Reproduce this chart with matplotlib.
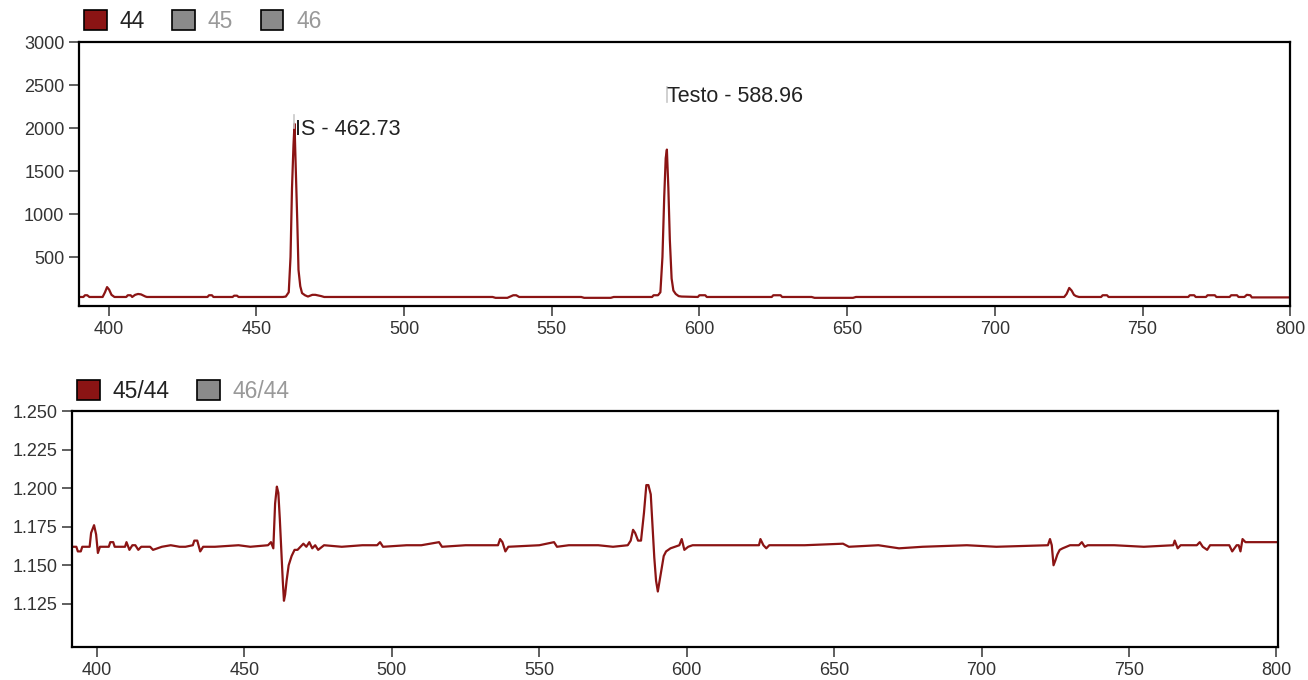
import matplotlib
matplotlib.use("Agg")
import matplotlib.pyplot as plt
from matplotlib.patches import Patch
import numpy as np

plt.rcParams['font.family'] = ['Liberation Sans', 'DejaVu Sans']

# signal trace for mass 44, (m/z, intensity)
trace44 = [(390, 35), (391.5, 35), (392, 55), (392.8, 55), (393.5, 35), (398, 35), (398.8, 90),
           (399.5, 150), (400.2, 120), (401, 60), (402, 35), (406, 35), (406.5, 55), (407.5, 55),
           (408, 35), (409, 60), (410, 70), (411, 65), (412.5, 40), (413, 35), (433.5, 35),
           (434, 55), (435, 55), (435.5, 35), (442, 35), (442.5, 50), (443.5, 50), (444, 35),
           (459, 35), (460, 40), (461, 90), (461.6, 500), (462.1, 1300), (462.6, 1800),
           (462.95, 2050), (463.4, 1500), (463.9, 900), (464.3, 350), (464.9, 160), (465.5, 80),
           (466.5, 55), (467.5, 40), (469, 60), (470, 60), (472, 45), (473, 35), (530, 35),
           (531, 25), (535, 25), (536, 40), (537, 55), (538, 55), (539, 35), (560, 35), (561, 25),
           (570, 25), (571, 35), (584, 35), (584.5, 55), (586, 55), (586.8, 90), (587.5, 500),
           (588.1, 1200), (588.6, 1650), (589.0, 1750), (589.5, 1300), (590, 700), (590.6, 250),
           (591.2, 110), (592, 70), (593, 45), (594, 40), (599.5, 35), (600, 55), (602, 55),
           (602.5, 35), (624.5, 35), (625, 55), (627.5, 55), (628, 35), (638, 35), (639, 25),
           (652, 25), (653, 35), (723.5, 35), (724.3, 70), (725.2, 140), (726, 110), (726.8, 60),
           (727.5, 45), (728.5, 35), (736, 35), (736.5, 55), (738, 55), (738.5, 35), (765.5, 35),
           (766, 55), (767.5, 55), (768, 35), (771.5, 35), (772, 55), (774.5, 55), (775, 35),
           (779.5, 35), (780, 55), (782, 55), (782.5, 35), (784.5, 35), (785.3, 60), (786.5, 55),
           (787, 30), (800, 30)]

# ratio trace 45/44
trace_ratio = [(391.5, 1.162), (393, 1.162), (393.5, 1.159), (394.5, 1.159), (395, 1.162),
               (397.5, 1.162), (398, 1.171), (399, 1.176), (399.7, 1.170), (400.3, 1.158),
               (401, 1.162), (404, 1.162), (404.5, 1.165), (405.5, 1.165), (406, 1.162),
               (409.5, 1.162), (410, 1.165), (411, 1.160), (412, 1.163), (413, 1.163),
               (414, 1.160), (415, 1.162), (418, 1.162), (419, 1.160), (422, 1.162),
               (425, 1.163), (428, 1.162), (430, 1.162), (432.5, 1.163), (433, 1.166),
               (434, 1.166), (435, 1.159), (436, 1.162), (440, 1.162), (448, 1.163),
               (452, 1.162), (458, 1.163), (459, 1.165), (459.8, 1.161), (460.4, 1.190),
               (461, 1.201), (461.5, 1.197), (462, 1.180), (462.5, 1.160), (463, 1.140),
               (463.4, 1.127), (463.8, 1.131), (464.3, 1.140), (465, 1.150), (466, 1.156),
               (467, 1.160), (468, 1.160), (470, 1.164), (471, 1.162), (472, 1.165),
               (473, 1.161), (474, 1.163), (475, 1.160), (477, 1.163), (483, 1.162),
               (490, 1.163), (495, 1.163), (496, 1.165), (497, 1.162), (505, 1.163),
               (510, 1.163), (516, 1.165), (517, 1.162), (525, 1.163), (536, 1.163),
               (536.7, 1.167), (537.5, 1.165), (538.5, 1.159), (539.5, 1.162), (550, 1.163),
               (555, 1.165), (556, 1.162), (560, 1.163), (570, 1.163), (575, 1.162),
               (580, 1.163), (581, 1.166), (581.8, 1.173), (582.5, 1.171), (583.5, 1.166),
               (584.5, 1.166), (585.5, 1.184), (586.3, 1.202), (587, 1.202), (587.8, 1.196),
               (588.4, 1.175), (589, 1.155), (589.6, 1.140), (590.2, 1.133), (590.8, 1.140),
               (591.5, 1.148), (592.2, 1.156), (593, 1.159), (594.5, 1.161), (596, 1.162),
               (597.5, 1.163), (598.3, 1.167), (599.2, 1.160), (600.5, 1.162), (602, 1.163),
               (610, 1.163), (620, 1.163), (624.5, 1.163), (625, 1.167), (626, 1.163),
               (627, 1.161), (628, 1.163), (629, 1.163), (640, 1.163), (653, 1.164),
               (655, 1.162), (665, 1.163), (672, 1.161), (680, 1.162), (695, 1.163),
               (705, 1.162), (722, 1.163), (722.5, 1.163), (723.2, 1.167), (723.8, 1.163),
               (724.4, 1.150), (725, 1.153), (725.7, 1.157), (726.5, 1.160), (727.5, 1.161),
               (730, 1.163), (733, 1.163), (734, 1.165), (735, 1.162), (736, 1.163),
               (737, 1.163), (745, 1.163), (755, 1.162), (765, 1.163), (765.5, 1.166),
               (766.5, 1.161), (767.5, 1.163), (768.5, 1.163), (773, 1.163), (774, 1.165),
               (775, 1.162), (776.5, 1.160), (777.5, 1.163), (784, 1.163), (785, 1.159),
               (786.5, 1.163), (787.2, 1.163), (787.8, 1.159), (788.5, 1.167), (789.5, 1.165),
               (800, 1.165)]

mz44, int44 = zip(*trace44)
mz_ratio, ratio45 = zip(*trace_ratio)

top_labels = ["44", "45", "46"]
bottom_labels = ["45/44", "46/44"]
peaks = [("IS - 462.73", 462.9, 2000, 2150, 1985), ("Testo - 588.96", 589.0, 2300, 2480, 2365)]

red = "#8b1414"
grey = "#8a8a8a"
txt = "#333333"

fig = plt.figure(figsize=(13.08, 6.8), dpi=100)
ax1 = fig.add_axes([0.0604, 0.55, 0.926, 0.388])
ax2 = fig.add_axes([0.055, 0.0485, 0.922, 0.347])

ax1.plot(mz44, int44, color=red, lw=1.6)
ax1.set_xlim(390, 800)
ax1.set_ylim(-70, 3000)
ax1.set_yticks([500, 1000, 1500, 2000, 2500, 3000])
for name, xp, y0, y1, yt in peaks:
    ax1.plot([xp, xp], [y0, y1], color="#c8c8c8", lw=1.2)
    ax1.text(xp + 0.2, yt, name, fontsize=15.5, color="#222222", va="center", ha="left")

ax2.plot(mz_ratio, ratio45, color=red, lw=1.6)
ax2.set_xlim(391.5, 800.5)
ax2.set_ylim(1.097, 1.25)
ax2.set_yticks([1.125, 1.15, 1.175, 1.2, 1.225, 1.25])
ax2.yaxis.set_major_formatter(matplotlib.ticker.FormatStrFormatter("%.3f"))

for ax in (ax1, ax2):
    ax.set_xticks(range(400, 801, 50))
    for s in ax.spines.values():
        s.set_linewidth(1.6)
        s.set_color("black")
    ax.tick_params(labelsize=13, labelcolor=txt, length=7, width=1.2, color="#444444")

def make_legend(ax, labels, ypos, xpos):
    colors = [red] + [grey] * (len(labels) - 1)
    handles = [Patch(facecolor=c, edgecolor="black", lw=1.2) for c in colors]
    leg = ax.legend(handles, labels, loc="lower left", bbox_to_anchor=(xpos, ypos), ncol=len(labels),
                    frameon=False, fontsize=16.5, handlelength=1.0, handleheight=1.0,
                    handletextpad=0.55, columnspacing=1.2, borderaxespad=0, borderpad=0)
    for i, t in enumerate(leg.get_texts()):
        t.set_color("#222222" if i == 0 else "#999999")

make_legend(ax1, top_labels, 1.035, 0.004)
make_legend(ax2, bottom_labels, 1.035, 0.004)

fig.savefig("out.png", dpi=100)
